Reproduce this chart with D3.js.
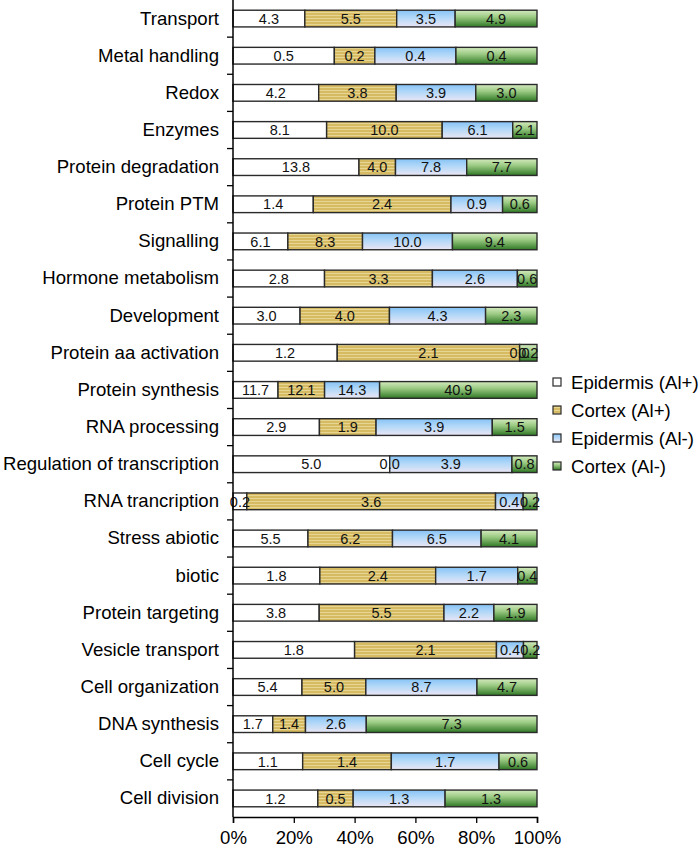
<!DOCTYPE html>
<html>
<head>
<meta charset="utf-8">
<script src="https://cdn.jsdelivr.net/npm/d3@7"></script>
<style>
  html, body { margin: 0; padding: 0; background: #fff; }
  svg { display: block; font-family: "Liberation Sans", Arial, Helvetica, sans-serif; }
</style>
</head>
<body>
<svg id="chart" width="700" height="849"></svg>
<script>
const categories = [
  "Transport", "Metal handling", "Redox", "Enzymes", "Protein degradation",
  "Protein PTM", "Signalling", "Hormone metabolism", "Development",
  "Protein aa activation", "Protein synthesis", "RNA processing",
  "Regulation of transcription", "RNA trancription", "Stress abiotic", "biotic",
  "Protein targeting", "Vesicle transport", "Cell organization", "DNA synthesis",
  "Cell cycle", "Cell division"
];
const seriesNames = ["Epidermis (Al+)", "Cortex (Al+)", "Epidermis (Al-)", "Cortex (Al-)"];
const epidermisAlPlus = [4.3, 0.5, 4.2, 8.1, 13.8, 1.4, 6.1, 2.8, 3.0, 1.2, 11.7, 2.9, 5.0, 0.2, 5.5, 1.8, 3.8, 1.8, 5.4, 1.7, 1.1, 1.2];
const cortexAlPlus    = [5.5, 0.2, 3.8, 10.0, 4.0, 2.4, 8.3, 3.3, 4.0, 2.1, 12.1, 1.9, 0.0, 3.6, 6.2, 2.4, 5.5, 2.1, 5.0, 1.4, 1.4, 0.5];
const epidermisAlMinus= [3.5, 0.4, 3.9, 6.1, 7.8, 0.9, 10.0, 2.6, 4.3, 0.0, 14.3, 3.9, 3.9, 0.4, 6.5, 1.7, 2.2, 0.4, 8.7, 2.6, 1.7, 1.3];
const cortexAlMinus   = [4.9, 0.4, 3.0, 2.1, 7.7, 0.6, 9.4, 0.6, 2.3, 0.2, 40.9, 1.5, 0.8, 0.2, 4.1, 0.4, 1.9, 0.2, 4.7, 7.3, 0.6, 1.3];
const xTicks = [0, 0.2, 0.4, 0.6, 0.8, 1.0];

const seriesValues = [epidermisAlPlus, cortexAlPlus, epidermisAlMinus, cortexAlMinus];
const fills = ["#ffffff", "url(#goldStripes)", "url(#blueGrad)", "url(#greenGrad)"];

const svg = d3.select("#chart");
const defs = svg.append("defs");

const pat = defs.append("pattern").attr("id", "goldStripes")
  .attr("patternUnits", "userSpaceOnUse").attr("width", 6).attr("height", 3);
pat.append("rect").attr("width", 6).attr("height", 3).attr("fill", "#d6bb63");
pat.append("rect").attr("width", 6).attr("height", 1).attr("fill", "#e6d593");

const blue = defs.append("linearGradient").attr("id", "blueGrad")
  .attr("x1", 0).attr("y1", 0).attr("x2", 0).attr("y2", 1);
blue.append("stop").attr("offset", "0%").attr("stop-color", "#86c3f6");
blue.append("stop").attr("offset", "45%").attr("stop-color", "#b3d8f8");
blue.append("stop").attr("offset", "100%").attr("stop-color", "#eae6f4");

const green = defs.append("linearGradient").attr("id", "greenGrad")
  .attr("x1", 0).attr("y1", 0).attr("x2", 0).attr("y2", 1);
green.append("stop").attr("offset", "0%").attr("stop-color", "#d4eabf");
green.append("stop").attr("offset", "40%").attr("stop-color", "#9ccb84");
green.append("stop").attr("offset", "100%").attr("stop-color", "#2f7825");

const x0 = 233, x1 = 537, yTop = 0, yBottom = 817;

const x = d3.scaleLinear().domain([0, 1]).range([x0, x1]);
const y = d3.scaleBand().domain(categories).range([yTop, yBottom])
  .paddingInner(0.55).paddingOuter(0.275);

const rows = categories.map((c, i) => {
  const vals = seriesValues.map(s => s[i]);
  const total = d3.sum(vals);
  let acc = 0;
  return vals.map((v, k) => {
    const seg = { cat: c, k, v, start: acc / total, end: (acc + v) / total };
    acc += v;
    return seg;
  });
});

const segs = rows.flat();
const g = svg.append("g");

g.selectAll("rect.seg").data(segs).join("rect")
  .attr("class", "seg")
  .attr("x", d => x(d.start))
  .attr("y", d => y(d.cat))
  .attr("width", d => x(d.end) - x(d.start))
  .attr("height", y.bandwidth())
  .attr("fill", d => fills[d.k])
  .attr("stroke", "#2a2a2a")
  .attr("stroke-width", 1.4);

g.selectAll("text.val").data(segs).join("text")
  .attr("class", "val")
  .attr("x", d => (x(d.start) + x(d.end)) / 2)
  .attr("y", d => y(d.cat) + y.bandwidth() / 2)
  .attr("dy", "0.36em")
  .attr("text-anchor", "middle")
  .attr("font-size", 14.5)
  .attr("fill", "#111")
  .text(d => d3.format(".1f")(d.v));

const yAxis = svg.append("g").attr("transform", `translate(${x0},0)`)
  .call(d3.axisLeft(y).tickSize(0).tickPadding(14));
yAxis.select(".domain").remove();
yAxis.selectAll("text").attr("font-size", 18.6).attr("fill", "#000")
  .attr("font-family", "'Liberation Sans', Arial, Helvetica, sans-serif");

const boundaries = categories.slice(1).map(c => y(c) - y.step() * y.paddingInner() / 2);
svg.append("g").selectAll("line").data(boundaries).join("line")
  .attr("x1", x0 - 6).attr("x2", x0)
  .attr("y1", d => d).attr("y2", d => d)
  .attr("stroke", "#000").attr("stroke-width", 1.3);
svg.append("line").attr("x1", x0).attr("x2", x0).attr("y1", yTop).attr("y2", yBottom)
  .attr("stroke", "#000").attr("stroke-width", 1.5);

const xAxis = svg.append("g").attr("transform", `translate(0,${yBottom})`)
  .call(d3.axisBottom(x).tickValues(xTicks).tickFormat(d3.format(".0%")).tickSize(6).tickPadding(8));
xAxis.select(".domain").attr("stroke", "#000").attr("stroke-width", 1.5);
xAxis.selectAll(".tick line").attr("stroke", "#000").attr("stroke-width", 1.3);
xAxis.selectAll("text").attr("font-size", 18.6).attr("fill", "#000")
  .attr("font-family", "'Liberation Sans', Arial, Helvetica, sans-serif");

const legend = svg.append("g").attr("transform", "translate(553,382)");
const li = legend.selectAll("g").data(seriesNames).join("g")
  .attr("transform", (d, i) => `translate(0,${i * 28})`);
li.append("rect").attr("x", 0).attr("y", -4).attr("width", 8).attr("height", 8)
  .attr("fill", (d, i) => fills[i]).attr("stroke", "#2a2a2a").attr("stroke-width", 1.2);
li.append("text").attr("x", 18).attr("y", 0).attr("dy", "0.36em")
  .attr("font-size", 18.6).attr("fill", "#000").text(d => d);
</script>
</body>
</html>
